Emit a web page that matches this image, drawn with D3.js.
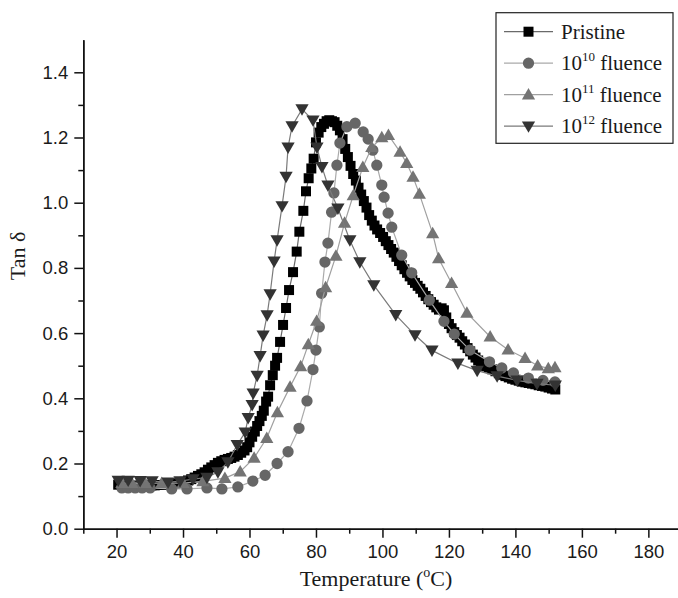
<!DOCTYPE html>
<html>
<head>
<meta charset="utf-8">
<script src="https://cdn.jsdelivr.net/npm/d3@7"></script>
<style>
body { margin: 0; background: #fff; }
svg { display: block; }
.axis text { font-family: "Liberation Sans", Arial, sans-serif; font-size: 18.5px; fill: #1a1a1a; }
.axis path, .axis line { stroke: #111; stroke-width: 1.5px; }
.title { font-family: "Liberation Serif", "Times New Roman", serif; font-size: 21px; fill: #1a1a1a; }
</style>
</head>
<body>
<svg width="678" height="598"></svg>
<script>
// Tan delta vs temperature
var pristine = [
  [20.5,.135],[21.5,.135],[22.5,.134],[23.5,.134],[24.5,.134],[25.5,.133],[26.5,.133],[27.5,.133],
  [28.5,.133],[29.5,.133],[30.5,.133],[31.5,.133],[32.5,.134],[33.5,.134],[34.5,.135],[35.5,.136],
  [36.5,.137],[37.5,.138],[38.5,.139],[39.5,.141],[40.5,.144],[41.5,.148],[42.5,.152],[43.5,.157],
  [44.5,.162],[45.5,.167],[46.5,.173],[47.5,.181],[48.5,.188],[49.5,.195],[50.5,.202],[51.5,.207],
  [52.5,.211],[53.5,.214],[54.5,.217],[55.5,.221],[56.5,.226],[57.5,.233],[58.5,.240],[59.3,.250],
  [60.0,.265],[60.8,.282],[61.6,.298],[62.3,.315],[63.0,.330],[63.7,.346],[64.3,.362],[65.0,.390],
  [65.6,.405],[66.2,.440],[67.0,.471],[67.7,.500],[68.3,.524],[69.2,.573],[70.1,.625],[71.0,.677],
  [71.9,.732],[73.1,.787],[74.2,.850],[75.0,.911],[76.2,.975],[77.0,1.035],[77.8,1.075],[78.6,1.105],
  [79.3,1.135],[80.0,1.185],[80.8,1.215],[81.6,1.232],[82.4,1.242],[83.2,1.250],[84.0,1.253],[84.8,1.250],
  [85.6,1.247],[86.4,1.236],[87.2,1.222],[88.0,1.195],[88.8,1.165],[89.6,1.140],[90.4,1.113],[91.2,1.088],
  [92.0,1.068],[92.8,1.046],[93.6,1.025],[94.4,1.005],[95.2,.985],[96.0,.962],[96.8,.945],[97.6,.930],
  [98.4,.918],[99.3,.907],[100.2,.895],[101.0,.882],[101.8,.870],[102.6,.858],[103.4,.847],[104.2,.834],
  [105.0,.821],[105.8,.808],[106.6,.796],[107.4,.785],[108.2,.774],[109.0,.763],[109.8,.754],[110.6,.745],
  [111.4,.736],[112.2,.725],[113.0,.714],[113.8,.704],[114.6,.695],[115.4,.687],[116.2,.679],[117.0,.672],
  [117.8,.676],[118.5,.670],[119.2,.648],[120.0,.628],[120.8,.615],[121.6,.603],[122.4,.594],[123.2,.586],
  [124.0,.575],[124.8,.565],[125.6,.554],[126.4,.544],[127.2,.534],[128.0,.525],[128.8,.516],[129.6,.509],
  [130.4,.503],[131.2,.498],[132.0,.494],[133.0,.489],[134.0,.483],[135.0,.477],[136.0,.472],[137.0,.468],
  [138.0,.464],[139.0,.460],[140.0,.457],[141.0,.454],[142.0,.451],[143.0,.449],[144.0,.447],[145.0,.445],
  [146.0,.443],[147.0,.440],[148.0,.438],[149.0,.436],[150.0,.433],[151.0,.430],[152.0,.427]
];
var fluence10 = [
  [21.6,.125],[23.5,.125],[25.6,.125],[27.7,.125],[30.1,.125],[36.6,.122],[41.2,.122],[47.2,.125],
  [51.7,.122],[56.5,.128],[61.0,.146],[64.7,.164],[68.3,.200],[71.6,.236],[74.9,.308],[77.3,.392],
  [79.1,.488],[80.0,.548],[81.0,.619],[81.7,.722],[82.7,.818],[83.6,.876],[84.7,.971],[85.4,1.030],
  [86.3,1.115],[87.2,1.183],[89.3,1.233],[91.8,1.244],[94.2,1.217],[95.7,1.195],[97.1,1.161],[98.3,1.115],
  [99.8,1.054],[100.5,1.017],[101.7,.968],[102.8,.925],[105.8,.839],[108.8,.785],[114.1,.701],[118.5,.636],
  [121.6,.597],[126.3,.548],[132.2,.512],[135.9,.493],[139.4,.478],[143.9,.462],[148.3,.455],[151.9,.450]
];
var fluence11 = [
  [21.6,.140],[24.6,.140],[28.6,.140],[33.6,.140],[40.0,.140],[46.0,.145],[52.6,.155],[57.2,.175],
  [61.4,.217],[65.2,.278],[68.4,.357],[72.2,.435],[75.4,.498],[77.7,.565],[80.2,.637],[82.9,.740],
  [86.0,.837],[88.6,.938],[91.2,1.022],[94.1,1.109],[96.8,1.170],[99.8,1.200],[101.8,1.207],[105.3,1.156],
  [107.3,1.121],[109.2,1.079],[111.1,1.027],[115.1,.906],[116.9,.829],[120.8,.753],[125.4,.662],[132.4,.589],
  [137.8,.549],[142.9,.523],[146.7,.500],[149.9,.492],[151.9,.495]
];
var fluence12 = [
  [20.5,.148],[23.5,.148],[27.1,.147],[30.7,.146],[35.5,.142],[39.1,.146],[43.0,.152],[47.2,.157],
  [50.5,.174],[53.5,.204],[56.3,.257],[58.7,.296],[59.6,.340],[60.8,.380],[61.1,.415],[62.3,.470],
  [63.2,.530],[64.1,.593],[65.3,.655],[66.2,.720],[67.4,.820],[68.3,.885],[69.8,.990],[71.0,1.080],
  [71.6,1.170],[72.8,1.235],[75.8,1.287],[79.1,1.253],[80.3,1.170],[81.8,1.110],[83.6,1.053],[86.6,.983],
  [90.2,.885],[93.2,.818],[97.4,.747],[104.0,.656],[109.8,.594],[114.9,.547],[122.7,.507],[128.5,.485],
  [134.5,.468],[140.5,.455],[146.5,.445],[152.0,.440]
];

var seriesNames = ['Pristine', '10|10', '10|11', '10|12'];
var xTicks = [20, 40, 60, 80, 100, 120, 140, 160, 180];
var yTicks = [0, 0.2, 0.4, 0.6, 0.8, 1.0, 1.2, 1.4];

function main() {
    var svg = d3.select("svg");

    var x = d3.scaleLinear().domain([10, 190]).range([83.3, 681.6]);
    var y = d3.scaleLinear().domain([0, 1.5]).range([528.7, 39.7]);

    var series = [
        { name: seriesNames[0], data: pristine,  shape: d3.symbolSquare,   size: 100, rot: 0,   fill: '#000',    line: '#6a6a6a' },
        { name: seriesNames[1], data: fluence10, shape: d3.symbolCircle,   size: 100, rot: 0,   fill: '#666',    line: '#aaa' },
        { name: seriesNames[2], data: fluence11, shape: d3.symbolTriangle, size: 76,  rot: 0,   fill: '#747474', line: '#a0a0a0' },
        { name: seriesNames[3], data: fluence12, shape: d3.symbolTriangle, size: 76,  rot: 180, fill: '#333',    line: '#7a7a7a' }
    ];

    var line = d3.line()
        .x(function(d) { return x(d[0]); })
        .y(function(d) { return y(d[1]); });

    // curves: line under the markers of each series
    series.forEach(function(s) {
        var g = svg.append('g');
        g.append('path')
            .attr('d', line(s.data))
            .attr('fill', 'none')
            .attr('stroke', s.line)
            .attr('stroke-width', 1.2);
        g.selectAll('path.pt')
            .data(s.data)
            .enter().append('path')
            .attr('class', 'pt')
            .attr('d', d3.symbol().type(s.shape).size(s.size))
            .attr('transform', function(d) {
                var off = s.shape === d3.symbolTriangle ? (s.rot ? -1 : 1) : 0;
                return 'translate(' + x(d[0]) + ',' + (y(d[1]) + off) + ') rotate(' + s.rot + ')';
            })
            .attr('fill', s.fill);
    });

    // axes
    var minorX = d3.range(10, 191, 20);
    var minorY = d3.range(0.1, 1.5, 0.2);

    svg.append('g').attr('class', 'axis')
        .attr('transform', 'translate(0,' + y(0) + ')')
        .call(d3.axisBottom(x).tickValues(minorX).tickSize(5).tickSizeOuter(0).tickFormat(''));
    svg.append('g').attr('class', 'axis')
        .attr('transform', 'translate(0,' + y(0) + ')')
        .call(d3.axisBottom(x).tickValues(xTicks).tickSize(9).tickSizeOuter(0).tickPadding(7).tickFormat(d3.format('d')));

    svg.append('g').attr('class', 'axis')
        .attr('transform', 'translate(' + x(10) + ',0)')
        .call(d3.axisLeft(y).tickValues(minorY).tickSize(5).tickSizeOuter(0).tickFormat(''));
    svg.append('g').attr('class', 'axis')
        .attr('transform', 'translate(' + x(10) + ',0)')
        .call(d3.axisLeft(y).tickValues(yTicks).tickSize(9).tickSizeOuter(0).tickPadding(6).tickFormat(d3.format('.1f')));

    // axis titles
    var xt = svg.append('text')
        .attr('class', 'title')
        .attr('x', 376)
        .attr('y', 586)
        .attr('text-anchor', 'middle')
        .style('font-size', '22px')
        .text('Temperature (');
    xt.append('tspan').attr('dy', -9).style('font-size', '14px').text('o');
    xt.append('tspan').attr('dy', 9).text('C)');

    svg.append('text')
        .attr('class', 'title')
        .attr('transform', 'translate(25,256) rotate(-90)')
        .attr('text-anchor', 'middle')
        .style('font-size', '22px')
        .text('Tan \u03b4');

    // legend
    var lg = svg.append('g').attr('class', 'legend');
    lg.append('rect')
        .attr('x', 496).attr('y', 12.7)
        .attr('width', 177).attr('height', 130.6)
        .attr('fill', '#fff')
        .attr('stroke', '#222')
        .attr('stroke-width', 1.2);

    series.forEach(function(s, i) {
        var cy = 31.7 + i * 31.5;
        lg.append('line')
            .attr('x1', 504).attr('x2', 553)
            .attr('y1', cy).attr('y2', cy)
            .attr('stroke', s.line)
            .attr('stroke-width', 1.2);
        var off = s.shape === d3.symbolTriangle ? (s.rot ? -1 : 1) : 0;
        lg.append('path')
            .attr('d', d3.symbol().type(s.shape).size(s.size))
            .attr('transform', 'translate(528.5,' + (cy + off) + ') rotate(' + s.rot + ')')
            .attr('fill', s.fill);

        var t = lg.append('text')
            .attr('class', 'title')
            .attr('x', 561)
            .attr('y', cy + 7);
        var parts = s.name.split('|');
        if (parts.length === 1) {
            t.text(parts[0]);
        } else {
            t.append('tspan').text(parts[0]);
            t.append('tspan').attr('dy', -9).style('font-size', '13px').text(parts[1]);
            t.append('tspan').attr('dy', 9).text(' fluence');
        }
    });
}

main();
</script>
</body>
</html>
